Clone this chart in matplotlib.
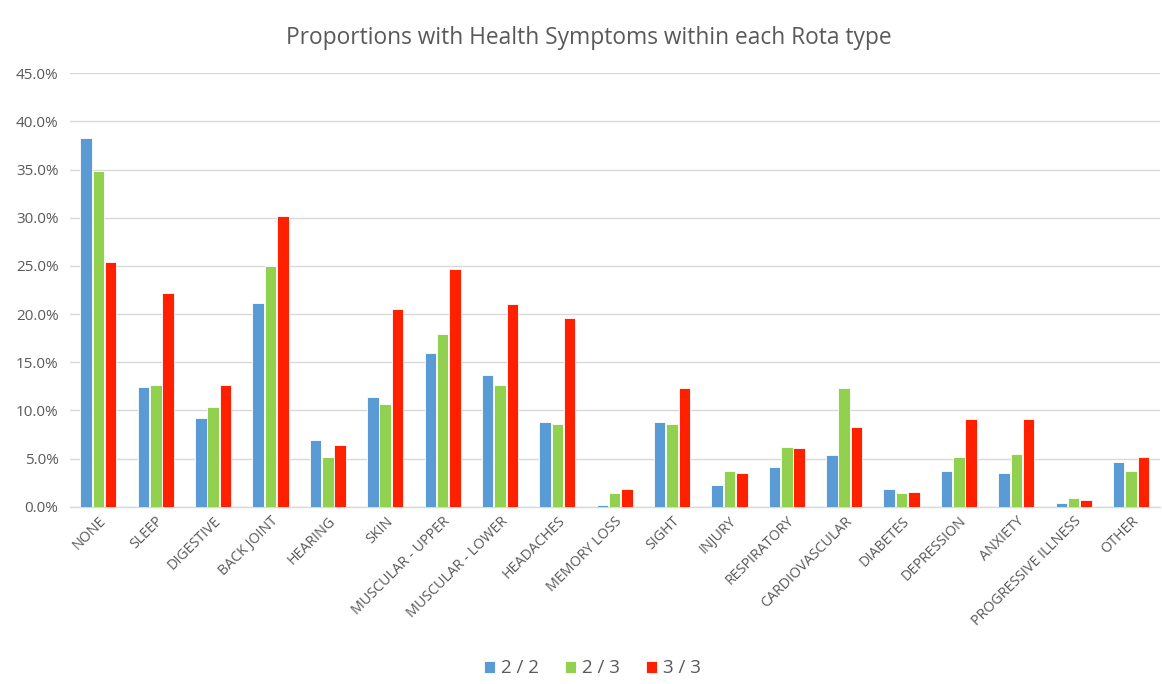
import matplotlib.pyplot as plt
import numpy as np
from matplotlib.ticker import PercentFormatter

categories = ['NONE', 'SLEEP', 'DIGESTIVE', 'BACK JOINT', 'HEARING', 'SKIN',
              'MUSCULAR - UPPER', 'MUSCULAR - LOWER', 'HEADACHES', 'MEMORY LOSS',
              'SIGHT', 'INJURY', 'RESPIRATORY', 'CARDIOVASCULAR', 'DIABETES',
              'DEPRESSION', 'ANXIETY', 'PROGRESSIVE ILLNESS', 'OTHER']

rota_2_2 = [38.3, 12.4, 9.2, 21.2, 6.9, 11.4, 16.0, 13.7, 8.8, 0.2,
            8.8, 2.25, 4.1, 5.4, 1.85, 3.7, 3.55, 0.35, 4.65]
rota_2_3 = [34.9, 12.6, 10.4, 25.0, 5.2, 10.7, 17.9, 12.6, 8.6, 1.45,
            8.6, 3.7, 6.2, 12.3, 1.45, 5.2, 5.5, 0.95, 3.7]
rota_3_3 = [25.4, 22.2, 12.6, 30.2, 6.45, 20.5, 24.7, 21.1, 19.6, 1.85,
            12.3, 3.55, 6.1, 8.3, 1.55, 9.1, 9.15, 0.7, 5.2]

series_names = ['2 / 2', '2 / 3', '3 / 3']
series_colors = ['#5B9BD5', '#92D050', '#FF2000']

text_color = '#595959'
grid_color = '#D9D9D9'

plt.rcParams['font.family'] = ['Open Sans', 'DejaVu Sans']

fig = plt.figure(figsize=(11.62, 6.84), dpi=100)
ax = fig.add_axes([0.060, 0.259, 0.938, 0.634])

x = np.arange(len(categories))
width = 0.2
step = 0.215
for i, (vals, name, col) in enumerate(zip([rota_2_2, rota_2_3, rota_3_3],
                                          series_names, series_colors)):
    ax.bar(x + (i - 1) * step, vals, width, color=col, label=name,
           edgecolor='white', linewidth=0.6, zorder=3)

ax.set_xlim(-0.5, len(categories) - 0.5)
ax.set_ylim(0, 45)
ax.set_yticks(np.arange(0, 46, 5))
ax.yaxis.set_major_formatter(PercentFormatter(decimals=1))
ax.grid(axis='y', color=grid_color, linewidth=1, zorder=0)

for side in ['top', 'right', 'left']:
    ax.spines[side].set_visible(False)
ax.spines['bottom'].set_color(grid_color)
ax.spines['bottom'].set_linewidth(1)

ax.tick_params(axis='both', length=0, colors=text_color)
ax.tick_params(axis='y', pad=8, labelsize=11)
ax.tick_params(axis='x', pad=5, labelsize=10.3)
ax.set_xticks(x)
ax.set_xticklabels(categories, rotation=45, ha='right', rotation_mode='anchor')

fig.suptitle('Proportions with Health Symptoms within each Rota type',
             x=0.507, y=0.962, fontsize=16.4, color=text_color)

leg = fig.legend(loc='center', bbox_to_anchor=(0.510, 0.023), ncol=3,
                 frameon=False, fontsize=13.5, handlelength=0.6, handleheight=0.6,
                 handletextpad=0.3, columnspacing=1.4)
for t in leg.get_texts():
    t.set_color(text_color)

fig.savefig('out.png', dpi=100, facecolor='white')
